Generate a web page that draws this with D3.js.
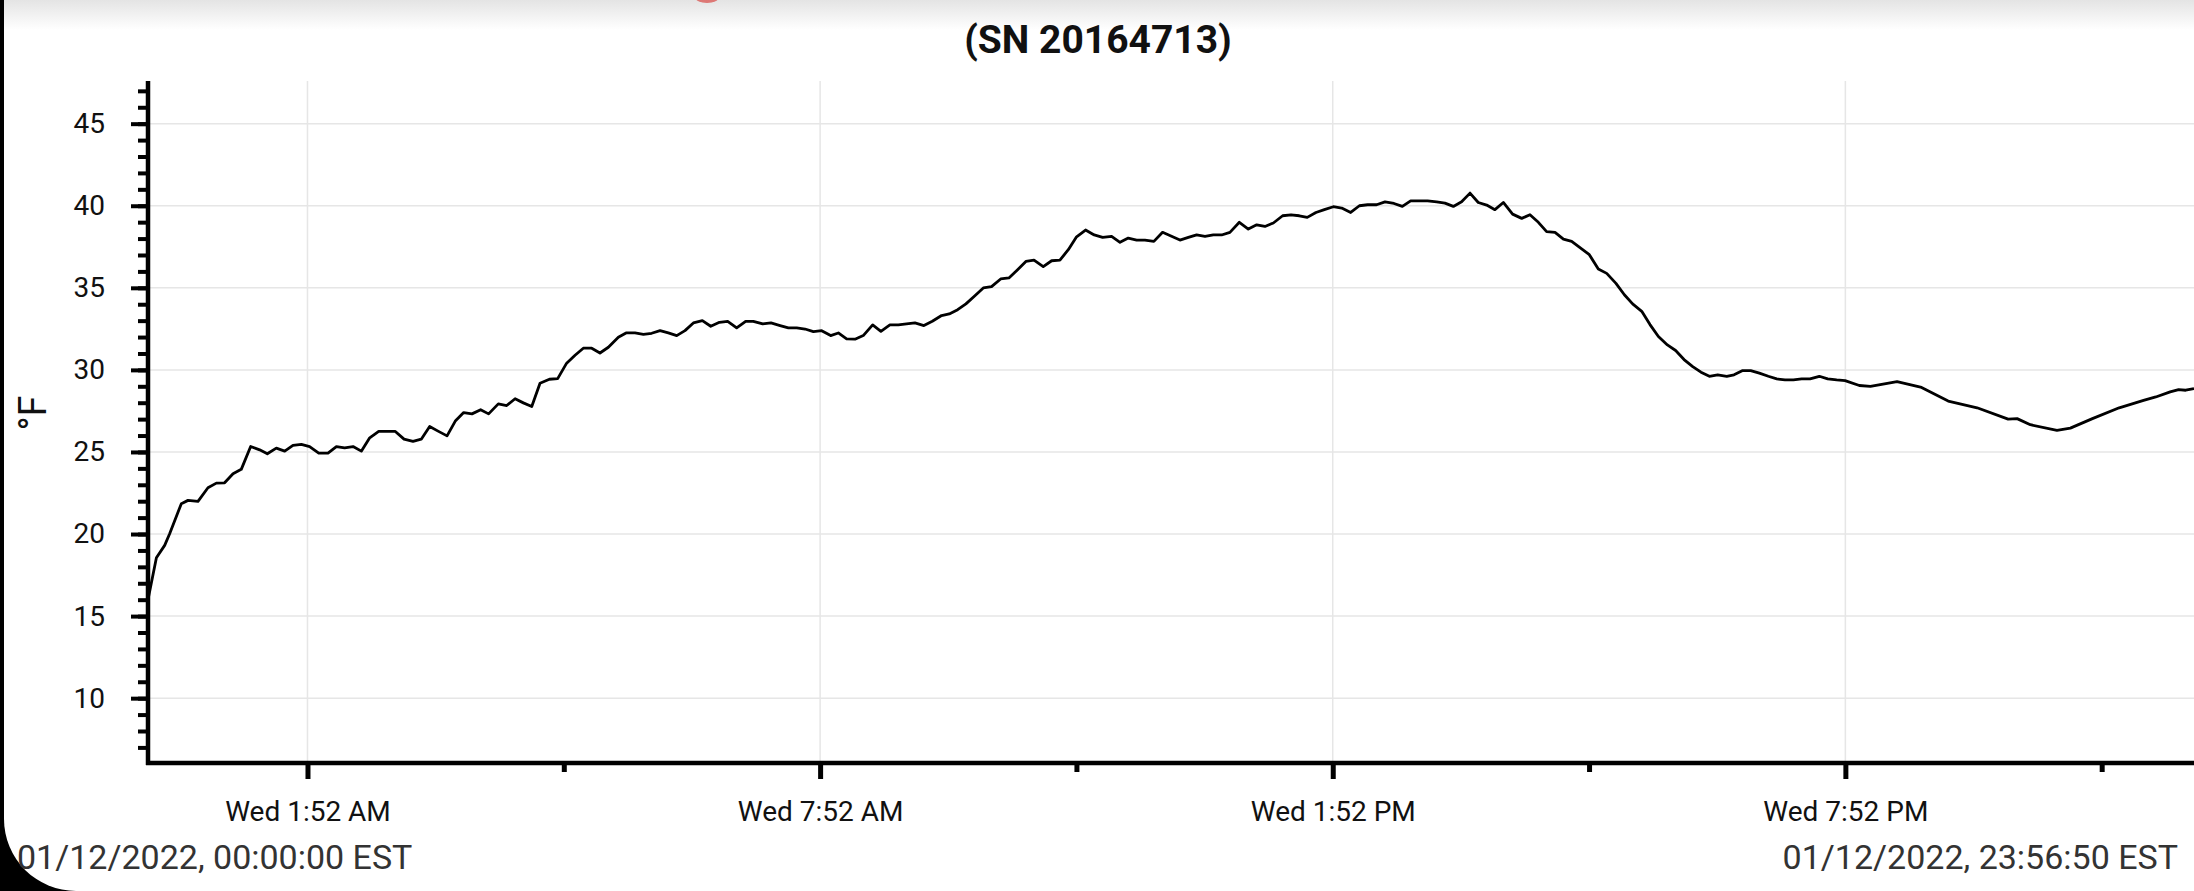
<!DOCTYPE html>
<html>
<head>
<meta charset="utf-8">
<script src="https://cdn.jsdelivr.net/npm/d3@7"></script>
<style>
  html, body { margin: 0; padding: 0; background: #000; overflow: hidden; }
  svg { display: block; font-family: Roboto, "Noto Sans", sans-serif; }
</style>
</head>
<body>
<svg id="chart" width="2194" height="891"></svg>
<script>
// ---- data (minutes after midnight, 01/12/2022 EST) ----
const minutes = [0, 5.9, 11.7, 15.2, 23.4, 28.1, 35.1, 42.1, 48.0, 53.8, 59.7, 65.5, 72.1, 78.4, 83.8, 90.1, 96.0, 101.8, 107.7, 113.5,
  119.9, 126.4, 132.3, 138.1, 144.0, 149.8, 155.7, 162.0, 173.7, 179.8, 186.1, 191.9, 197.8, 203.7, 210.0, 215.8, 221.7, 227.5, 233.6, 239.2,
  246.0, 251.9, 257.8, 263.6, 269.5, 275.3, 281.9, 287.7, 294.0, 299.9, 305.7, 311.6, 317.4, 323.3, 330.3, 335.7, 342.0, 347.9, 353.7, 359.6,
  365.4, 371.3, 377.1, 383.0, 389.3, 395.2, 401.3, 407.1, 413.4, 419.7, 425.1, 431.7, 437.5, 443.9, 449.7, 455.6, 461.4, 467.3, 473.1, 479.4,
  484.8, 490.6, 496.5, 502.3, 508.9, 514.7, 521.0, 526.9, 532.7, 538.6, 544.9, 550.8, 557.3, 562.7, 568.6, 574.4, 580.7, 586.6, 592.4, 598.8,
  604.6, 610.5, 616.5, 622.2, 628.7, 634.6, 640.4, 646.3, 652.1, 658.4, 664.5, 670.4, 676.7, 682.6, 688.4, 694.3, 700.1, 706.4, 712.5,
  718.0, 724.7, 730.6, 736.4, 742.3, 748.1, 754.0, 759.8, 766.4, 772.7, 778.6, 784.4, 790.3, 796.8, 802.7, 808.5, 814.1, 820.2, 826.1, 832.4,
  838.3, 844.6, 850.7, 856.5, 862.8, 868.7, 875.0, 880.9, 886.7, 892.8, 898.6, 905.0, 910.8, 916.7, 922.5, 928.4, 934.2, 940.1, 945.9, 951.8, 958.3,
  964.7, 970.5, 976.4, 982.2, 988.1, 994.0, 999.8, 1006.1, 1012.2, 1018.5, 1024.4, 1030.9, 1036.8, 1042.6, 1049.0, 1054.8, 1060.7, 1067.0, 1072.8, 1078.7,
  1084.8, 1090.6, 1096.5, 1102.3, 1108.7, 1113.8, 1119.9, 1125.5, 1131.6, 1137.9, 1143.8, 1149.6, 1155.5, 1161.3, 1167.2, 1173.7, 1179.6, 1185.9, 1191.8, 1201.8,
  1209.6, 1228.3, 1245.5, 1264.2, 1284.5, 1306.3, 1312.6, 1321.9, 1340.6, 1350.0, 1365.5, 1384.3, 1401.4, 1410.0, 1420.1, 1426.0, 1431.0, 1436.83];

const tempF = [16.0, 18.56, 19.31, 20.02, 21.85, 22.05, 21.99, 22.82, 23.10, 23.12, 23.67, 23.94, 25.33, 25.13, 24.89, 25.23, 25.05, 25.40, 25.46, 25.33,
  24.93, 24.93, 25.33, 25.25, 25.33, 25.05, 25.86, 26.25, 26.25, 25.78, 25.64, 25.78, 26.55, 26.27, 25.98, 26.88, 27.40, 27.32, 27.57, 27.32,
  27.93, 27.83, 28.24, 27.99, 27.77, 29.19, 29.43, 29.47, 30.41, 30.89, 31.32, 31.32, 31.03, 31.38, 31.99, 32.25, 32.25, 32.17, 32.23, 32.39,
  32.25, 32.09, 32.39, 32.86, 33.00, 32.66, 32.90, 32.96, 32.56, 32.96, 32.96, 32.80, 32.86, 32.70, 32.56, 32.56, 32.49, 32.33, 32.39, 32.09,
  32.25, 31.89, 31.87, 32.09, 32.74, 32.35, 32.74, 32.74, 32.80, 32.86, 32.70, 32.96, 33.31, 33.41, 33.67, 34.02, 34.52, 34.99, 35.07, 35.54,
  35.60, 36.09, 36.61, 36.69, 36.29, 36.65, 36.69, 37.32, 38.11, 38.52, 38.22, 38.07, 38.13, 37.77, 38.03, 37.91, 37.91, 37.83, 38.38,
  38.17, 37.91, 38.07, 38.22, 38.13, 38.22, 38.22, 38.38, 38.99, 38.58, 38.84, 38.74, 38.95, 39.39, 39.45, 39.39, 39.29, 39.59, 39.76, 39.94,
  39.86, 39.59, 40.00, 40.06, 40.06, 40.24, 40.14, 39.96, 40.30, 40.30, 40.30, 40.24, 40.16, 39.96, 40.24, 40.77, 40.20, 40.04, 39.76, 40.20, 39.49,
  39.23, 39.45, 38.99, 38.42, 38.38, 37.97, 37.83, 37.42, 37.02, 36.15, 35.88, 35.27, 34.58, 34.02, 33.57, 32.76, 32.03, 31.52, 31.18, 30.63,
  30.20, 29.86, 29.61, 29.70, 29.61, 29.70, 29.96, 29.96, 29.80, 29.61, 29.45, 29.39, 29.39, 29.45, 29.45, 29.61, 29.45, 29.39, 29.35, 29.05,
  29.00, 29.28, 28.93, 28.10, 27.69, 27.00, 27.03, 26.66, 26.31, 26.45, 27.03, 27.69, 28.14, 28.35, 28.66, 28.80, 28.76, 28.86];

const xMajorTicks = [112, 472, 832, 1192];
const xMajorLabels = ["Wed 1:52 AM", "Wed 7:52 AM", "Wed 1:52 PM", "Wed 7:52 PM"];
const xMinorTicks = [292, 652, 1012, 1372];
const yMajorTicks = [10, 15, 20, 25, 30, 35, 40, 45];
const yMinorTicks = d3.range(7, 48);
const titleText = "(SN 20164713)";
const yLabel = "°F";
const startLabel = "01/12/2022, 00:00:00 EST";
const endLabel = "01/12/2022, 23:56:50 EST";

// ---- layout ----
const W = 2194, H = 891;
const plot = { left: 148, right: 2194, top: 81, bottom: 763 };

const svg = d3.select("#chart");

// card background with rounded bottom-left corner
svg.append("rect").attr("x", 0).attr("y", 0).attr("width", W).attr("height", H).attr("fill", "#000");
svg.append("path").attr("d", `M4,0 H${W} V${H} H76 A72,72 0 0 1 4,${H - 72} Z`).attr("fill", "#fff");

const defs = svg.append("defs");
const grad = defs.append("linearGradient").attr("id", "topfade").attr("x1", 0).attr("y1", 0).attr("x2", 0).attr("y2", 1);
grad.append("stop").attr("offset", "0%").attr("stop-color", "#e4e4e4");
grad.append("stop").attr("offset", "100%").attr("stop-color", "#ffffff");
svg.append("rect").attr("x", 4).attr("y", 0).attr("width", W - 4).attr("height", 30).attr("fill", "url(#topfade)");
// partially visible red mark at top
svg.append("ellipse").attr("cx", 707).attr("cy", -3).attr("rx", 12).attr("ry", 6).attr("fill", "#d9534f").attr("opacity", 0.75);

defs.append("clipPath").attr("id", "plotclip").append("rect")
  .attr("x", plot.left).attr("y", plot.top).attr("width", plot.right - plot.left).attr("height", plot.bottom - plot.top);

// ---- scales ----
const x = d3.scaleLinear().domain([0, 1436.83]).range([plot.left, plot.right]);
const y = d3.scaleLinear().domain([6.05, 47.6]).range([plot.bottom, plot.top]);

// ---- grid ----
const grid = svg.append("g");
grid.selectAll("line.h").data(yMajorTicks).join("line")
  .attr("x1", plot.left).attr("x2", plot.right)
  .attr("y1", d => y(d)).attr("y2", d => y(d))
  .attr("stroke", "#e6e6e6").attr("stroke-width", 1.5);
grid.selectAll("line.v").data(xMajorTicks).join("line")
  .attr("x1", d => x(d)).attr("x2", d => x(d))
  .attr("y1", plot.top).attr("y2", plot.bottom)
  .attr("stroke", "#e6e6e6").attr("stroke-width", 1.5);

// ---- line ----
const data = minutes.map((m, i) => ({ m, v: tempF[i] }));
svg.append("path").datum(data)
  .attr("clip-path", "url(#plotclip)")
  .attr("fill", "none").attr("stroke", "#000").attr("stroke-width", 2.8)
  .attr("stroke-linejoin", "round")
  .attr("d", d3.line().x(d => x(d.m)).y(d => y(d.v)));

// ---- y axis ----
const yAxisMajor = d3.axisLeft(y).tickValues(yMajorTicks).tickSize(17).tickPadding(26).tickFormat(d3.format("d"));
const yAxisMinor = d3.axisLeft(y).tickValues(yMinorTicks).tickSize(10).tickFormat("");
const gyMinor = svg.append("g").attr("transform", `translate(${plot.left},0)`).call(yAxisMinor);
const gy = svg.append("g").attr("transform", `translate(${plot.left},0)`).call(yAxisMajor);
[gy, gyMinor].forEach(g => {
  g.select(".domain").remove();
  g.selectAll(".tick line").attr("stroke", "#000").attr("stroke-width", 4);
});
gy.selectAll(".tick text").attr("font-size", 28).attr("fill", "#111").attr("font-family", "Roboto");
svg.append("line").attr("x1", plot.left).attr("x2", plot.left).attr("y1", plot.top).attr("y2", plot.bottom + 2)
  .attr("stroke", "#000").attr("stroke-width", 4.5);

// ---- x axis ----
const xAxisMajor = d3.axisBottom(x).tickValues(xMajorTicks).tickSize(16).tickPadding(22)
  .tickFormat((d, i) => xMajorLabels[i]);
const xAxisMinor = d3.axisBottom(x).tickValues(xMinorTicks).tickSize(9).tickFormat("");
const gxMinor = svg.append("g").attr("transform", `translate(0,${plot.bottom})`).call(xAxisMinor);
const gx = svg.append("g").attr("transform", `translate(0,${plot.bottom})`).call(xAxisMajor);
[gx, gxMinor].forEach(g => {
  g.select(".domain").remove();
  g.selectAll(".tick line").attr("stroke", "#000").attr("stroke-width", 5);
});
gx.selectAll(".tick text").attr("font-size", 28).attr("fill", "#111").attr("font-family", "Roboto");
svg.append("line").attr("x1", plot.left - 2).attr("x2", plot.right).attr("y1", plot.bottom).attr("y2", plot.bottom)
  .attr("stroke", "#000").attr("stroke-width", 4.5);

// ---- titles / labels ----
svg.append("text").attr("x", 1098).attr("y", 53).attr("text-anchor", "middle")
  .attr("font-size", 39).attr("font-weight", "bold").attr("fill", "#111").text(titleText);

svg.append("text").attr("transform", "translate(46,413) rotate(-90)").attr("text-anchor", "middle")
  .attr("font-size", 38).attr("fill", "#111").text(yLabel);

svg.append("text").attr("x", 17).attr("y", 869).attr("font-size", 34).attr("fill", "#333").text(startLabel);
svg.append("text").attr("x", 2178).attr("y", 869).attr("text-anchor", "end").attr("font-size", 34).attr("fill", "#333").text(endLabel);
</script>
</body>
</html>
